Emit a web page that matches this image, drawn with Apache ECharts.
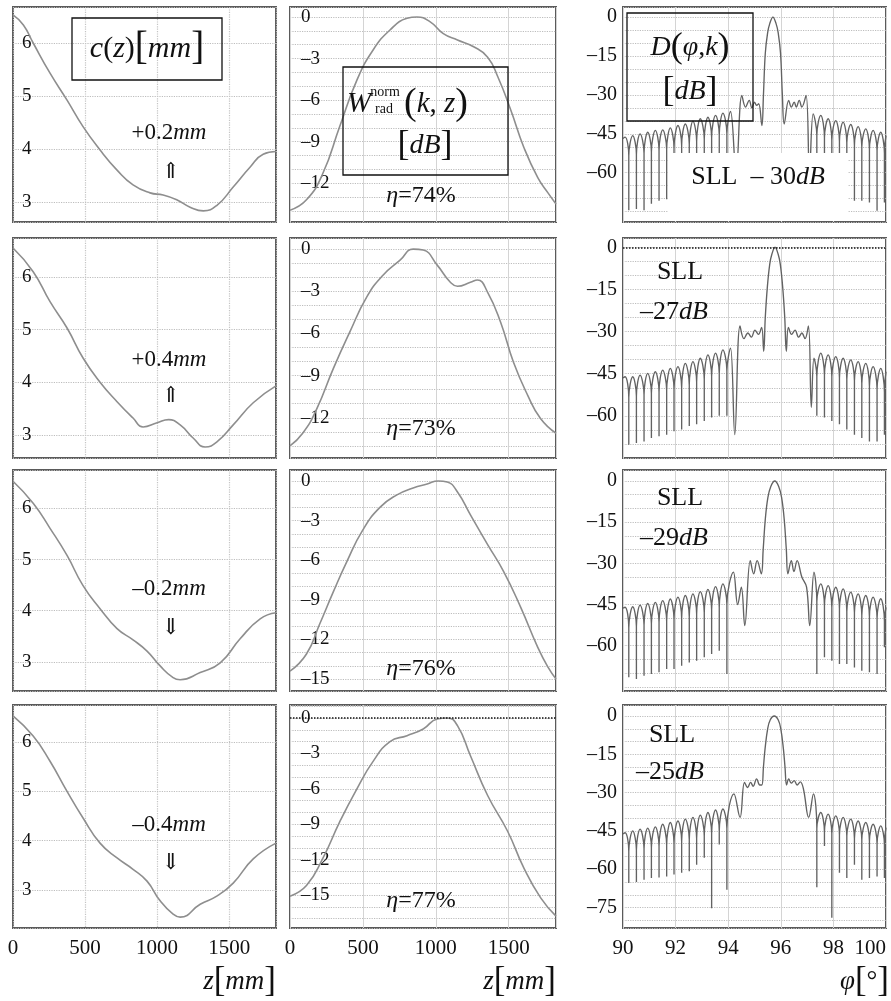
<!DOCTYPE html>
<html>
<head>
<meta charset="utf-8">
<script src="https://cdn.jsdelivr.net/npm/echarts@6/dist/echarts.min.js"></script>
<style>
html, body { margin: 0; padding: 0; background: #fff; }
#chart { width: 891px; height: 1001px; }
</style>
</head>
<body>
<div id="chart"></div>
<script>
// c(z) profiles, [z mm, c mm]
const cz1 = [[0,6.53],[72,6.34],[140,6.0],[257,5.43],[375,4.92],[486,4.42],[604,3.98],[722,3.6],[833,3.32],[951,3.17],[1042,3.13],[1136,3.04],[1229,2.9],[1321,2.83],[1417,2.94],[1528,3.28],[1646,3.66],[1736,3.9],[1825,3.95]];
const cz2 = [[0,6.55],[140,6.1],[257,5.53],[375,5.03],[486,4.46],[604,4.0],[722,3.63],[833,3.32],[903,3.15],[1000,3.23],[1080,3.29],[1160,3.19],[1250,2.94],[1333,2.77],[1417,2.87],[1528,3.19],[1667,3.61],[1825,3.93]];
const cz3 = [[0,6.53],[140,6.1],[257,5.61],[375,5.08],[486,4.49],[604,4.04],[722,3.65],[833,3.43],[930,3.21],[1021,2.92],[1111,2.69],[1160,2.65],[1299,2.79],[1438,2.98],[1576,3.45],[1715,3.84],[1825,3.96]];
const cz4 = [[0,6.53],[140,6.12],[257,5.61],[375,5.0],[486,4.46],[604,3.95],[722,3.65],[833,3.42],[930,3.18],[1021,2.78],[1111,2.51],[1160,2.45],[1299,2.71],[1417,2.88],[1528,3.14],[1667,3.63],[1825,3.95]];

// W_rad^norm(k,z) in dB
const w1 = [[0,-13.95],[113,-13.2],[225,-11.3],[341,-7.9],[459,-4.56],[569,-2.4],[686,-0.94],[803,-0.1],[872,0],[962,-0.35],[1052,-1.2],[1149,-1.66],[1260,-2.15],[1356,-2.9],[1425,-4.3],[1514,-6.7],[1604,-9.4],[1700,-11.6],[1770,-12.7],[1825,-13.5]];
const w2 = [[0,-14.0],[87,-13.1],[182,-11.4],[297,-8.5],[410,-5.9],[527,-3.4],[638,-1.86],[755,-0.79],[845,0],[914,-0.07],[1010,-1.14],[1100,-2.36],[1149,-2.64],[1238,-2.36],[1286,-2.2],[1356,-3.07],[1445,-5.2],[1534,-8.07],[1631,-10.4],[1720,-12.07],[1825,-13.1]];
const w3 = [[0,-14.4],[113,-13.1],[203,-10.85],[297,-8.4],[390,-6.1],[500,-3.7],[617,-2.0],[734,-1.05],[845,-0.53],[941,-0.23],[1017,0],[1079,-0.08],[1149,-0.83],[1238,-2.56],[1356,-4.82],[1466,-6.86],[1583,-9.57],[1700,-12.6],[1770,-14.1],[1825,-15.0]];
const w4 = [[0,-15.1],[113,-14.2],[225,-11.9],[341,-8.8],[459,-6.0],[569,-3.7],[686,-2.0],[803,-1.5],[914,-0.93],[1010,-0.08],[1079,0],[1149,-0.65],[1238,-3.2],[1356,-6.57],[1493,-9.6],[1604,-12.7],[1720,-15.25],[1825,-16.8]];

// D(phi,k): far sidelobe positions (edge, peak, null, peak, ...) and (null, peak, ..., edge)
const phiL = [90.00, 90.08, 90.22, 90.37, 90.51, 90.65, 90.80, 90.94, 91.08, 91.23, 91.37, 91.51, 91.66, 91.80, 91.94, 92.09, 92.23, 92.37, 92.52, 92.66, 92.80, 92.94, 93.09, 93.23, 93.37, 93.52, 93.66, 93.80, 93.95];
const phiR = [97.37, 97.52, 97.66, 97.80, 97.94, 98.09, 98.23, 98.37, 98.51, 98.66, 98.80, 98.94, 99.08, 99.23, 99.37, 99.51, 99.66, 99.80, 99.94, 100.0];

// levels on those positions, arch floor beside each null, and the central part
const dL1 = [-46.8, -46.3, -74.5, -45.7, -74.0, -45.0, -74.5, -44.4, -72.0, -43.7, -70.8, -43.5, -70.2, -42.7, -69.0, -41.8, -68.0, -41.2, -67.0, -40.1, -66.0, -39.2, -65.0, -38.6, -64.0, -37.9, -63.0, -37.0, -62.0];
const fL1 = [-53.5, -53, -52.5, -52, -51.5, -51, -50.5, -49.5, -49, -48, -47, -46.5, -45.5, -45];
const dN1 = [[94.09,-36.4],[94.30,-60],[94.52,-30.2],[94.66,-34.7],[94.80,-32.1],[94.90,-35.0],[95.00,-32.8],[95.08,-34.0],[95.16,-33.4],[95.28,-41.8],
  [95.34,-30],[95.41,-14],[95.50,-6],[95.58,-2.5],[95.70,0],[95.82,-2.5],[95.90,-6],[95.99,-14],[96.06,-30],
  [96.13,-41.2],[96.30,-32.1],[96.40,-34.7],[96.51,-32.8],[96.59,-34.7],[96.70,-32.1],[96.80,-34.7],[96.96,-30.2],[97.09,-60],[97.23,-37.3]];
const dR1 = [-60, -37.9, -60, -39.2, -60, -39.9, -60, -40.5, -62, -41.4, -70.8, -42.2, -70.8, -43.1, -71.5, -43.7, -74.7, -44.4, -71.5, -45.7];
const fR1 = [-45.5, -46.5, -47.5, -48, -48.5, -49.5, -50, -51, -51.5, -52.5];

const dL2 = [-46.5, -46.1, -70.3, -46.1, -69.7, -45.5, -69.1, -44.9, -67.9, -44.3, -67.3, -43.7, -66.7, -43.1, -65.5, -42.5, -64.9, -41.3, -63.6, -40.7, -63.0, -39.5, -61.8, -38.3, -60.6, -37.7, -60.0, -36.5, -60.0];
const fL2 = [-53.5, -53, -52.5, -52, -51.5, -51, -50.5, -50, -49, -48, -47, -46, -45, -44];
const dN2 = [[94.09,-35.9],[94.25,-66.7],[94.45,-28.0],[94.60,-32.5],[94.75,-30.5],[94.88,-32.0],[95.02,-29.5],[95.15,-31.0],[95.27,-28.5],[95.35,-37.0],
  [95.41,-25],[95.49,-14],[95.58,-6],[95.66,-2.5],[95.78,0],[95.90,-2.5],[95.98,-6],[96.07,-14],[96.15,-25],
  [96.21,-37.0],[96.29,-28.5],[96.41,-31.0],[96.54,-29.5],[96.68,-32.0],[96.80,-30.5],[96.92,-32.5],[97.05,-28.0],[97.16,-57],[97.26,-39.5]];
const dR2 = [-60, -37.7, -60.6, -38.3, -61.8, -38.9, -63.0, -39.5, -64.9, -40.1, -66.7, -40.7, -67.9, -41.3, -69.1, -42.5, -69.1, -43.1, -66.7, -44.3];
const fR2 = [-46, -45.5, -46, -46.5, -47, -47.5, -48.5, -49.5, -50.5, -51.5];

const dL3 = [-46.3, -46.0, -71.5, -45.8, -72.1, -45.2, -70.9, -44.6, -70.3, -44.2, -69.7, -43.6, -68.5, -43.0, -68.5, -42.3, -67.3, -41.7, -66.1, -41.1, -65.5, -40.3, -64.2, -39.5, -63.0, -38.5, -61.8, -37.5, -70.3];
const fL3 = [-53.5, -53, -52.5, -52, -51.5, -51, -50.5, -50, -49.5, -48.5, -48, -47, -46, -45];
const dN3 = [[94.20,-33.2],[94.36,-45],[94.50,-38.7],[94.63,-52.7],[94.84,-29.0],[94.97,-33.8],[95.10,-29.0],[95.26,-33.8],
  [95.33,-25],[95.41,-14],[95.51,-6],[95.62,-2],[95.77,0],[95.92,-2],[96.03,-6],[96.13,-14],[96.21,-25],
  [96.27,-33.8],[96.40,-29.0],[96.50,-33.0],[96.62,-29.0],[96.80,-35.0],[96.98,-38.7],[97.10,-52.7],[97.26,-33.2]];
const dR3 = [-70.3, -37.5, -64.2, -38.1, -65.5, -38.7, -66.7, -39.3, -66.7, -40.5, -67.9, -41.1, -69.1, -41.7, -69.7, -42.3, -70.3, -42.9, -60.6, -46.0];
const fR3 = [-44, -45.5, -46, -46.5, -47.5, -48, -49, -49.5, -50, -51];

const dL4 = [-46.2, -45.7, -65.4, -45.0, -65.0, -44.3, -64.1, -43.9, -63.4, -43.4, -63.2, -42.4, -62.8, -41.7, -62.1, -41.1, -61.4, -40.4, -60.8, -39.7, -58.2, -38.8, -55.5, -37.8, -75.3, -36.8, -50.3, -36.4, -68.0];
const fL4 = [-53, -52.5, -52, -51.5, -51, -50.5, -50, -49, -48.5, -48, -47, -46, -45, -44];
const dN4 = [[94.22,-30.5],[94.45,-39.7],[94.62,-26.0],[94.74,-28.0],[94.85,-26.0],[94.95,-27.5],[95.08,-24.6],[95.20,-27.0],
  [95.28,-27],[95.34,-20],[95.40,-13],[95.50,-5],[95.60,-1.5],[95.75,0],[95.90,-1.5],[96.00,-5],[96.10,-13],[96.16,-20],[96.22,-27],
  [96.30,-24.6],[96.40,-26.3],[96.51,-25.3],[96.62,-27.0],[96.74,-25.8],[96.86,-28.5],[97.06,-39.7],[97.24,-30.5]];
const dR4 = [-67.0, -37.8, -50.9, -38.4, -79.0, -39.1, -61.4, -39.7, -63.4, -40.4, -58.2, -41.1, -64.1, -41.7, -63.4, -42.4, -62.8, -43.0, -63.4, -43.7];
const fR4 = [-44, -45.5, -46, -46.5, -47, -48, -48.5, -49, -50, -50.5];

// annotation texts
const offsets = ['+0.2', '+0.4', '\u20130.2', '\u20130.4'];
const arrows = ['\u21D1', '\u21D1', '\u21D3', '\u21D3'];
const etas = ['74', '73', '76', '77'];
const slls = ['30', '27', '29', '25'];

// layout
const SERIF = '"Liberation Serif", "Times New Roman", serif';
const colLeft = [13, 290, 623];
const colWidth = [263, 266, 263];
const rowTop = [7, 238, 470, 705];
const rowHeight = [215, 220, 221, 223];
const cRange = [[2.62, 6.68], [2.56, 6.74], [2.43, 6.75], [2.23, 6.75]];
const wRange = [[-14.8, 0.72], [-14.86, 0.79], [-15.9, 0.83], [-17.8, 1.1]];
const dRange = [[-79, 3.9], [-75, 3.3], [-76.5, 4.0], [-83, 4.3]];
const dLabelLow = [-60, -60, -60, -75];

// a null is drawn as a thin spike dropping from the arch floor
function buildD(left, leftFloor, near, right, rightFloor) {
    const pts = [];
    let f = 0;
    phiL.forEach((p, i) => {
        if (i >= 2 && i % 2 === 0) {
            pts.push([p, leftFloor[f]], [p, left[i]], [p, leftFloor[f]]);
            f++;
        } else {
            pts.push([p, left[i]]);
        }
    });
    near.forEach(p => pts.push(p));
    f = 0;
    phiR.forEach((p, i) => {
        if (i % 2 === 0 && i < phiR.length - 1) {
            pts.push([p, rightFloor[f]], [p, right[i]], [p, rightFloor[f]]);
            f++;
        } else {
            pts.push([p, right[i]]);
        }
    });
    return pts;
}

const cData = [cz1, cz2, cz3, cz4];
const wData = [w1, w2, w3, w4];
const dData = [
    buildD(dL1, fL1, dN1, dR1, fR1),
    buildD(dL2, fL2, dN2, dR2, fR2),
    buildD(dL3, fL3, dN3, dR3, fR3),
    buildD(dL4, fL4, dN4, dR4, fR4)
];

function tickFmt(step, low) {
    return v => {
        const r = Math.round(v);
        if (Math.abs(v - r) > 1e-6 || r % step !== 0) return '';
        if (low != null && r < low) return '';
        return r < 0 ? '\u2013' + (-r) : String(r);
    };
}

const grids = [], xAxes = [], yAxes = [], series = [];

for (let r = 0; r < 4; r++) {
    for (let c = 0; c < 3; c++) {
        const idx = grids.length;
        grids.push({
            left: colLeft[c], top: rowTop[r], width: colWidth[c], height: rowHeight[r],
            show: true, borderColor: '#5a5a5a', borderWidth: 2, backgroundColor: 'transparent'
        });
        const isLast = r === 3;
        xAxes.push({
            gridIndex: idx, type: 'value',
            min: c === 2 ? 90 : 0, max: c === 2 ? 100 : 1825,
            splitNumber: c === 2 ? 5 : 4,
            axisLine: { show: false }, axisTick: { show: false },
            axisLabel: {
                show: isLast, margin: 10, color: '#111', fontFamily: SERIF, fontSize: 21,
                formatter: tickFmt(c === 2 ? 2 : 500), alignMaxLabel: 'right'
            },
            splitLine: { show: true, lineStyle: c === 0
                ? { color: '#c4c4c4', type: 'dotted', width: 1.2 }
                : { color: '#d4d4d4', type: 'solid', width: 1 } }
        });
        const range = c === 0 ? cRange[r] : c === 1 ? wRange[r] : dRange[r];
        yAxes.push({
            gridIndex: idx, type: 'value', min: range[0], max: range[1],
            splitNumber: c === 0 ? 5 : c === 1 ? 16 : 17,
            axisLine: { show: false }, axisTick: { show: false },
            axisLabel: {
                inside: c !== 2, margin: c === 0 ? 9 : c === 1 ? 11 : 6,
                color: '#111', fontFamily: SERIF, fontSize: c === 2 ? 20 : 19,
                formatter: c === 2 ? tickFmt(15, dLabelLow[r]) : tickFmt(c === 0 ? 1 : 3)
            },
            splitLine: { show: true, lineStyle: { color: '#bdbdbd', type: 'dotted', width: 1.2 } }
        });
        const s = {
            type: 'line', xAxisIndex: idx, yAxisIndex: idx,
            data: c === 0 ? cData[r] : c === 1 ? wData[r] : dData[r],
            symbol: 'none', showSymbol: false, silent: true,
            smooth: c === 2 ? 0.4 : 0.5,
            lineStyle: c === 2 ? { color: '#626262', width: 1.35 } : { color: '#8e8e8e', width: 1.6 }
        };
        if ((r === 1 && c === 2) || (r === 3 && c === 1)) {
            s.markLine = {
                silent: true, symbol: 'none', label: { show: false },
                lineStyle: { color: '#111', type: 'dotted', width: 1.5 },
                data: [{ yAxis: 0 }]
            };
        }
        series.push(s);
    }
}

function rich(size) {
    return {
        n: { fontFamily: SERIF, fontSize: size, fill: '#111' },
        i: { fontFamily: SERIF, fontSize: size, fontStyle: 'italic', fill: '#111' },
        b: { fontFamily: SERIF, fontSize: Math.round(size * 1.3), fill: '#111' },
        a: { fontFamily: '"DejaVu Serif", serif', fontSize: size, fill: '#111' }
    };
}
function label(x, y, text, size, align) {
    const al = align || 'center';
    return {
        type: 'text', x, y, z: 60, silent: true,
        style: {
            text, rich: rich(size), fontFamily: SERIF, fontSize: size, fill: '#111',
            textAlign: al, align: al, textVerticalAlign: 'middle', verticalAlign: 'middle'
        }
    };
}
function box(x, y, w, h) {
    return { type: 'rect', z: 55, silent: true, shape: { x, y, width: w, height: h },
        style: { fill: 'transparent', stroke: '#111', lineWidth: 1.3 } };
}

const graphic = [];
// c(z) legend box
graphic.push(box(72, 18, 150, 62));
graphic.push(label(147, 49, '{i|c}{n|(}{i|z}{n|)}{b|[}{i|mm}{b|]}', 30));
// W box
graphic.push(box(343, 67, 165, 108));
graphic.push(label(359, 104, '{i|W}', 29));
graphic.push(label(385, 92, '{n|norm}', 14));
graphic.push(label(384, 109, '{n|rad}', 14));
graphic.push(label(404, 104, '{b|(}{i|k}{n|, }{i|z}{b|)}', 29, 'left'));
graphic.push(label(425, 146, '{b|[}{i|dB}{b|]}', 28));
// D box
graphic.push(box(627, 13, 126, 108));
graphic.push(label(690, 48, '{i|D}{b|(}{i|\u03C6}{n|,}{i|k}{b|)}', 28));
graphic.push(label(690, 92, '{b|[}{i|dB}{b|]}', 28));
// SLL of first row sits on a white patch
graphic.push({ type: 'rect', z: 54, silent: true, shape: { x: 668, y: 153, width: 180, height: 68 },
    style: { fill: '#fff', stroke: 'transparent' } });
graphic.push(label(758, 177, '{n|SLL  \u2013 ' + slls[0] + '}{i|dB}', 26));

const offY = [133, 360, 589, 825], arrY = [172, 396, 628, 863];
const etaY = [196, 429, 669, 901];
for (let r = 0; r < 4; r++) {
    graphic.push(label(169, offY[r], '{n|' + offsets[r] + '}{i|mm}', 23));
    graphic.push(label(171, arrY[r], '{a|' + arrows[r] + '}', 22));
    graphic.push(label(421, etaY[r], '{i|\u03B7}{n|=' + etas[r] + '%}', 24));
}
const sllX = [680, 680, 672], sllY = [272, 498, 735];
const sllVX = [674, 674, 670], sllVY = [312, 538, 772];
for (let k = 0; k < 3; k++) {
    graphic.push(label(sllX[k], sllY[k], '{n|SLL}', 26));
    graphic.push(label(sllVX[k], sllVY[k], '{n|\u2013' + slls[k + 1] + '}{i|dB}', 26));
}
// axis titles
graphic.push(label(276, 982, '{i|z}{b|[}{i|mm}{b|]}', 27, 'right'));
graphic.push(label(556, 982, '{i|z}{b|[}{i|mm}{b|]}', 27, 'right'));
graphic.push(label(889, 982, '{i|\u03C6}{b|[}{n|\u00B0}{b|]}', 27, 'right'));

const chart = echarts.init(document.getElementById('chart'), null, { renderer: 'canvas' });
chart.setOption({
    animation: false,
    backgroundColor: '#fff',
    grid: grids,
    xAxis: xAxes,
    yAxis: yAxes,
    series: series,
    graphic: graphic
});
</script>
</body>
</html>
